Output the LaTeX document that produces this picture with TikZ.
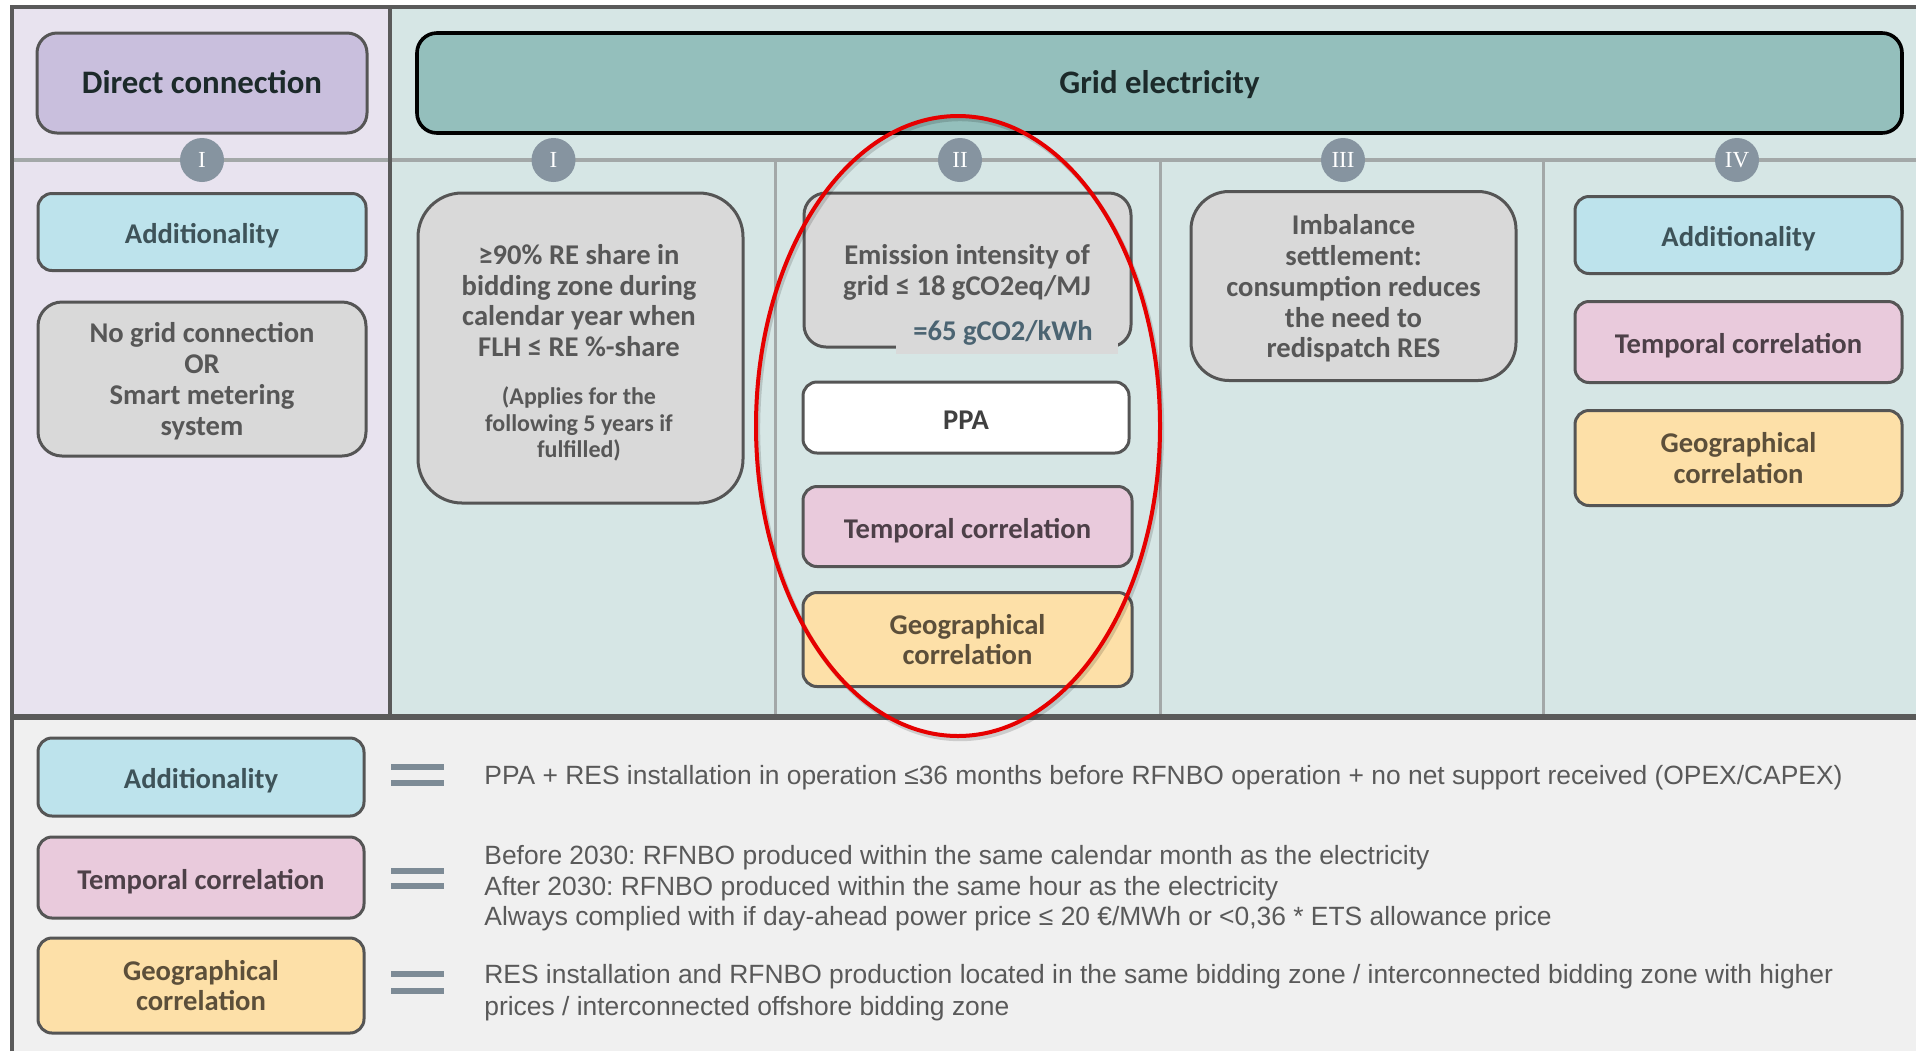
\documentclass[tikz,border=0pt]{standalone}
\usepackage{fontspec}
\setmainfont{Carlito}
\newfontfamily\arialfont{Liberation Sans}
\newfontfamily\romanfont{Liberation Serif}
\usetikzlibrary{shapes.geometric}
\frenchspacing

\definecolor{bgLav}{HTML}{E8E3EF}
\definecolor{bgTeal}{HTML}{D6E6E5}
\definecolor{bgBottom}{HTML}{F0F0F0}
\definecolor{frameCol}{HTML}{5A5A5A}
\definecolor{sepCol}{HTML}{A3A8A8}
\definecolor{cDirect}{HTML}{C9BFDD}
\definecolor{cGrid}{HTML}{94BFBC}
\definecolor{cGray}{HTML}{D9D9D9}
\definecolor{cAdd}{HTML}{BDE3EC}
\definecolor{cTemp}{HTML}{E9CADC}
\definecolor{cGeo}{HTML}{FDE0A8}
\definecolor{boxBorder}{HTML}{555555}
\definecolor{grayText}{HTML}{575757}
\definecolor{addText}{HTML}{3E5359}
\definecolor{tempText}{HTML}{4D4048}
\definecolor{geoText}{HTML}{5C4F3A}
\definecolor{hdrText}{HTML}{1C2A2A}
\definecolor{badgeCol}{HTML}{8694A0}
\definecolor{eqCol}{HTML}{7D8B96}
\definecolor{legText}{HTML}{595959}
\definecolor{kwhText}{HTML}{4B6472}
\definecolor{ringRed}{HTML}{E60000}

\newcommand\boxfont{\fontsize{14.3pt}{15.4pt}\selectfont\bfseries}
\newcommand\smallboxfont{\fontsize{12pt}{13.1pt}\selectfont\bfseries}
\newcommand\hdrfont{\fontsize{16.4pt}{19pt}\selectfont\bfseries}
\newcommand\legfont{\arialfont\fontsize{13.2pt}{15.25pt}\selectfont}
\newcommand\badgefont{\romanfont\fontsize{11.5pt}{11.5pt}\selectfont}

\tikzset{
  rbox/.style={draw=boxBorder, line width=1.5pt, rounded corners=7pt, inner sep=0pt,
    align=center, font=\boxfont, text=grayText},
  oneline/.style={text height=11.6pt, text depth=0pt},
  addbox/.style={rbox, fill=cAdd, text=addText},
  tempbox/.style={rbox, fill=cTemp, text=tempText},
  geobox/.style={rbox, fill=cGeo, text=geoText},
  graybox/.style={rbox, fill=cGray, text=grayText},
  hdrbox/.style={rbox, rounded corners=10pt, font=\hdrfont, text=hdrText,
    minimum height=50pt, text height=10.5pt, text depth=0pt},
  badge/.style={circle, fill=badgeCol, text=white, font=\badgefont,
    minimum size=22pt, inner sep=0pt},
  plaintext/.style={inner sep=0pt, align=center, font=\boxfont, text=grayText},
  legline/.style={inner sep=0pt, anchor=base west, font=\legfont, text=legText},
  eqbar/.style={eqCol, line width=3pt},
}

\begin{document}
\begin{tikzpicture}[x=0.5pt,y=-0.5pt]
\useasboundingbox (0,0) rectangle (1916,1051);
\fill[white] (0,0) rectangle (1916,1051);

% backgrounds
\fill[bgLav] (12,7) rectangle (390,717);
\fill[bgTeal] (390,7) rectangle (1916,717);
\fill[bgBottom] (12,717) rectangle (1916,1051);

% separators
\draw[sepCol, line width=2pt] (12,160) -- (1916,160);
\draw[sepCol, line width=1.5pt] (775,160) -- (775,717);
\draw[sepCol, line width=1.5pt] (1160,160) -- (1160,717);
\draw[sepCol, line width=1.5pt] (1543,160) -- (1543,717);
\draw[frameCol, line width=1.6pt] (390,7) -- (390,717);
\draw[frameCol, line width=2.6pt] (12,717) -- (1916,717);
\draw[frameCol, line width=2pt] (12,1051) -- (12,7) -- (1916,7);

% headers
\node[hdrbox, fill=cDirect, minimum width=165pt] (direct) at (202,83) {Direct connection};
\node[hdrbox, draw=black, line width=1.8pt, fill=cGrid, minimum width=742.5pt] (grid) at (1159.5,83) {Grid electricity};

% badges
\node[badge] (bL) at (202,160) {I};
\node[badge] (b1) at (553.5,160) {I};
\node[badge] (b2) at (960,160) {II};
\node[badge] (b3) at (1343,160) {III};
\node[badge] (b4) at (1737,160) {IV};

% left column
\node[addbox, oneline, minimum width=164pt, minimum height=38.5pt] (ladd) at (202,232) {Additionality};
\node[graybox, rounded corners=12pt, minimum width=164pt, minimum height=77pt] (lnogrid) at (202,379) {};
\node[plaintext] (lnogridtext) at (202,381) {No grid connection\\OR\\Smart metering\\system};

% column I
\node[graybox, rounded corners=22pt, minimum width=162.5pt, minimum height=155pt] (c1box) at (580.5,348) {};
\node[plaintext] (c1main) at (579,300.5) {≥90\% RE share in\\bidding zone during\\calendar year when\\FLH ≤ RE \%-share};
\node[plaintext, font=\smallboxfont] (c1note) at (579,424) {(Applies for the\\following 5 years if\\fulfilled)};

% column II
\node[graybox, rounded corners=11pt, minimum width=163.5pt, minimum height=77pt] (emis) at (967.5,270) {};
\node[plaintext] (emistext) at (967,272) {Emission intensity of\\grid ≤ 18 gCO2eq/MJ};
\fill[cGray] (896,318) rectangle (1118,354);
\node[plaintext, oneline, text=kwhText] (kwh) at (1003,329) {=65 gCO2/kWh};
\node[rbox, oneline, fill=white, text=black!75, minimum width=163pt, minimum height=35.5pt] (ppa) at (966,417.5) {PPA};
\node[tempbox, oneline, minimum width=164.5pt, minimum height=40pt] (temp2) at (967.5,526.5) {Temporal correlation};
\node[geobox, minimum width=164.5pt, minimum height=47pt] (geo2) at (967.5,639.5) {Geographical\\correlation};

% column III
\node[graybox, rounded corners=19pt, minimum width=162.5pt, minimum height=94.5pt] (imb) at (1353.5,286) {};
\node[plaintext] (imbtext) at (1353.5,288.5) {Imbalance\\settlement:\\consumption reduces\\the need to\\redispatch RES};

% column IV
\node[addbox, oneline, minimum width=163.5pt, minimum height=38.5pt] (add4) at (1738.5,235) {Additionality};
\node[tempbox, oneline, minimum width=163.5pt, minimum height=40.5pt] (temp4) at (1738.5,342) {Temporal correlation};
\node[geobox, minimum width=163.5pt, minimum height=47.5pt] (geo4) at (1738.5,458) {Geographical\\correlation};

% highlight ellipse
\draw[black, opacity=0.15, line width=2.2pt] (960,429) ellipse [x radius=101pt, y radius=155pt];
\draw[ringRed, line width=2pt] (958,426) ellipse [x radius=101pt, y radius=155pt];

% legend
\node[addbox, oneline, minimum width=163pt, minimum height=39pt] (legadd) at (201,777) {Additionality};
\node[tempbox, oneline, minimum width=163pt, minimum height=40.5pt] (legtemp) at (201,877.5) {Temporal correlation};
\node[geobox, minimum width=163pt, minimum height=47.5pt] (leggeo) at (201,985.5) {Geographical\\correlation};

\draw[eqbar] (391,767) -- (444,767);
\draw[eqbar] (391,783) -- (444,783);
\draw[eqbar] (391,871) -- (444,871);
\draw[eqbar] (391,886) -- (444,886);
\draw[eqbar] (391,974) -- (444,974);
\draw[eqbar] (391,991) -- (444,991);

\node[legline] (t1) at (484,784.5) {PPA + RES installation in operation ≤36 months before RFNBO operation + no net support received (OPEX/CAPEX)};
\node[legline] (t2a) at (484,864.5) {Before 2030: RFNBO produced within the same calendar month as the electricity};
\node[legline] (t2b) at (484,895) {After 2030: RFNBO produced within the same hour as the electricity};
\node[legline] (t2c) at (484,925.5) {Always complied with if day-ahead power price ≤ 20 €/MWh or <0,36 * ETS allowance price};
\node[legline] (t3a) at (484,983.5) {RES installation and RFNBO production located in the same bidding zone / interconnected bidding zone with higher};
\node[legline] (t3b) at (484,1015) {prices / interconnected offshore bidding zone};
\end{tikzpicture}
\end{document}
